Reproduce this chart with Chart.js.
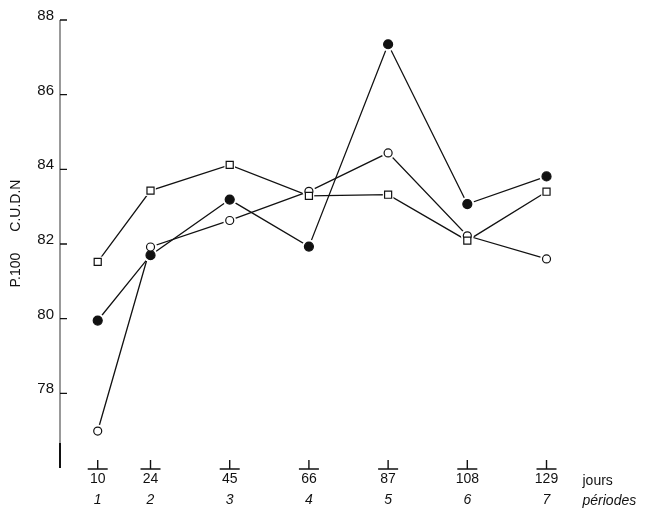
<!DOCTYPE html>
<html lang="fr">
<head>
<meta charset="utf-8">
<title>P.100 C.U.D.N</title>
<script src="https://cdn.jsdelivr.net/npm/chart.js@4/dist/chart.umd.min.js"></script>
<style>
    html, body { margin: 0; padding: 0; background: #fff; }
    #wrap { width: 651px; height: 510px; position: relative; }
</style>
</head>
<body>
<div id="wrap"><canvas id="cudnChart"></canvas></div>
<script>
// jours de mesure et numéros de période
const jours = [10, 24, 45, 66, 87, 108, 129];
const periodes = ['1', '2', '3', '4', '5', '6', '7'];

// C.U.D.N (p.100) par lot
const lotCarres = [81.52, 83.43, 84.12, 83.29, 83.32, 82.09, 83.40];
const lotRondsBlancs = [76.99, 81.92, 82.63, 83.41, 84.44, 82.22, 81.60];
const lotRondsNoirs = [79.95, 81.70, 83.19, 81.93, 87.35, 83.07, 83.81];

const yTicks = [78, 80, 82, 84, 86, 88];

const INK = '#111';
const FONT = "'Liberation Sans', Arial, sans-serif";

function pts(values) {
    return jours.map((j, i) => ({ x: j, y: values[i] }));
}

const series = [
    { values: lotCarres, style: 'rect', radius: 5, fill: '#fff' },
    { values: lotRondsBlancs, style: 'circle', radius: 4, fill: '#fff' },
    { values: lotRondsNoirs, style: 'circle', radius: 4.5, fill: INK }
];

const datasets = [];
series.forEach(s => {
    // trait seul, dessiné en dessous
    datasets.push({
        data: pts(s.values), borderColor: INK, borderWidth: 1.3,
        pointRadius: 0, tension: 0, fill: false, order: 3
    });
    // petit blanc autour de chaque point (le trait s'arrête avant le symbole)
    datasets.push({
        data: pts(s.values), showLine: false, pointStyle: s.style,
        pointRadius: s.radius + 2.5, pointBackgroundColor: '#fff',
        pointBorderColor: '#fff', pointBorderWidth: 0, order: 2
    });
    // symboles
    datasets.push({
        data: pts(s.values), showLine: false, pointStyle: s.style,
        pointRadius: s.radius, pointBackgroundColor: s.fill,
        pointBorderColor: INK, pointBorderWidth: 1.2, order: 1
    });
});

// axe vertical, graduations vers l'intérieur, repères en T renversé
const axesPlugin = {
    id: 'axesPlugin',
    afterDraw(chart) {
        const { ctx, chartArea, scales } = chart;
        const y = scales.y, x = scales.x;
        const left = chartArea.left, bottom = chartArea.bottom;
        ctx.save();

        // axe fin jusqu'au bas, bout inférieur plus appuyé
        ctx.strokeStyle = '#555';
        ctx.lineWidth = 1.2;
        ctx.beginPath();
        ctx.moveTo(left, y.getPixelForValue(88));
        ctx.lineTo(left, bottom - 25);
        ctx.stroke();
        ctx.strokeStyle = INK;
        ctx.lineWidth = 2;
        ctx.beginPath();
        ctx.moveTo(left, bottom - 25);
        ctx.lineTo(left, bottom);
        ctx.stroke();

        ctx.lineWidth = 1.4;
        ctx.beginPath();
        yTicks.forEach(v => {
            const py = y.getPixelForValue(v);
            ctx.moveTo(left, py);
            ctx.lineTo(left + 7, py);
        });
        jours.forEach(j => {
            const px = x.getPixelForValue(j);
            ctx.moveTo(px, bottom - 8);
            ctx.lineTo(px, bottom + 1);
            ctx.moveTo(px - 10, bottom + 1);
            ctx.lineTo(px + 10, bottom + 1);
        });
        ctx.stroke();

        const xr = x.getPixelForValue(129) + 36;
        ctx.fillStyle = INK;
        ctx.textAlign = 'left';
        ctx.textBaseline = 'middle';
        ctx.font = '14px ' + FONT;
        ctx.fillText('jours', xr, bottom + 13);
        ctx.font = 'italic 14px ' + FONT;
        ctx.fillText('périodes', xr, bottom + 33);
        ctx.restore();
    }
};

const ctx = document.getElementById('cudnChart').getContext('2d');
const cudnChart = new Chart(ctx, {
    type: 'line',
    data: { datasets: datasets },
    options: {
        responsive: true,
        maintainAspectRatio: false,
        animation: false,
        events: [],
        layout: { padding: { top: 20, right: 63, left: 0, bottom: 0 } },
        plugins: {
            legend: { display: false },
            tooltip: { enabled: false }
        },
        scales: {
            x: {
                type: 'linear', position: 'bottom', min: 0, max: 140,
                grid: { display: false, drawTicks: false },
                border: { display: false },
                afterBuildTicks: s => { s.ticks = jours.map(v => ({ value: v })); },
                afterFit: s => { s.height = 21; },
                ticks: {
                    color: INK, padding: 3, maxRotation: 0, autoSkip: false,
                    font: { family: FONT, size: 14 },
                    callback: v => String(v)
                }
            },
            x2: {
                type: 'linear', position: 'bottom', min: 0, max: 140,
                grid: { display: false, drawTicks: false },
                border: { display: false },
                afterBuildTicks: s => { s.ticks = jours.map(v => ({ value: v })); },
                afterFit: s => { s.height = 21; },
                ticks: {
                    color: INK, padding: 3, maxRotation: 0, autoSkip: false,
                    font: { family: FONT, size: 14, style: 'italic' },
                    callback: v => periodes[jours.indexOf(v)]
                }
            },
            y: {
                min: 76, max: 88,
                grid: { display: false, drawTicks: false },
                border: { display: false },
                afterBuildTicks: s => { s.ticks = yTicks.map(v => ({ value: v })); },
                afterFit: s => { s.width = 60; },
                ticks: {
                    color: INK, padding: 6, labelOffset: -4,
                    font: { family: FONT, size: 15 }
                },
                title: {
                    display: true,
                    text: '\u2003\u2002P.100\u2003\u2002C.U.D.N',
                    color: INK, padding: 8,
                    font: { family: FONT, size: 14 }
                }
            }
        }
    },
    plugins: [axesPlugin]
});
</script>
</body>
</html>
